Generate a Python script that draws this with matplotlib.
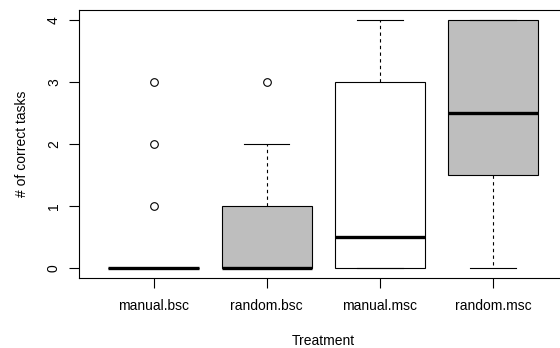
import matplotlib
matplotlib.use("Agg")
import matplotlib.pyplot as plt

categories = ["manual.bsc", "random.bsc", "manual.msc", "random.msc"]
q1 = [0, 0, 0, 1.5]
medians = [0, 0, 0.5, 2.5]
q3 = [0, 1, 3, 4]
whislo = [0, 0, 0, 0]
whishi = [0, 2, 4, 4]
outliers = [[1, 2, 3], [3], [], []]
fill_colors = ["white", "#BEBEBE", "white", "#BEBEBE"]

plt.rcParams['font.family'] = ['Liberation Sans', 'DejaVu Sans']

fig = plt.figure(figsize=(5.6, 3.48), dpi=100)
ax = fig.add_axes([79/560, 1-278/348, (567.7-79)/560, (278-10)/348])

stats = []
for i, c in enumerate(categories):
    stats.append(dict(label=c, q1=q1[i], med=medians[i], q3=q3[i],
                      whislo=whislo[i], whishi=whishi[i], fliers=outliers[i]))

bp = ax.bxp(stats, positions=range(1, len(categories)+1), widths=0.8,
            patch_artist=True, showfliers=True,
            boxprops=dict(edgecolor="black", linewidth=0.8),
            medianprops=dict(color="black", linewidth=2.4, solid_capstyle="butt"),
            whiskerprops=dict(color="black", linewidth=0.8, linestyle=(0, (3, 3))),
            capprops=dict(color="black", linewidth=0.8),
            capwidths=0.4,
            flierprops=dict(marker="o", markerfacecolor="none", markeredgecolor="black",
                            markersize=5.5, markeredgewidth=0.8))
for patch, col in zip(bp["boxes"], fill_colors):
    patch.set_facecolor(col)

ax.set_xlim(0.34, 4.66)
ax.set_ylim(-0.16, 4.16)
ax.set_yticks([0, 1, 2, 3, 4])
ax.set_yticklabels(["0", "1", "2", "3", "4"], rotation=90, va="center")
ax.set_xticks(range(1, len(categories)+1))
ax.set_xticklabels(categories)
ax.tick_params(axis="both", direction="out", length=7, width=0.8, labelsize=10, pad=6)
ax.tick_params(axis="x", pad=8)
for s in ax.spines.values():
    s.set_linewidth(0.8)
ax.set_xlabel("Treatment", fontsize=10, labelpad=15)
ax.set_ylabel("# of correct tasks", fontsize=10, labelpad=13)

fig.savefig("out.png", dpi=100)
